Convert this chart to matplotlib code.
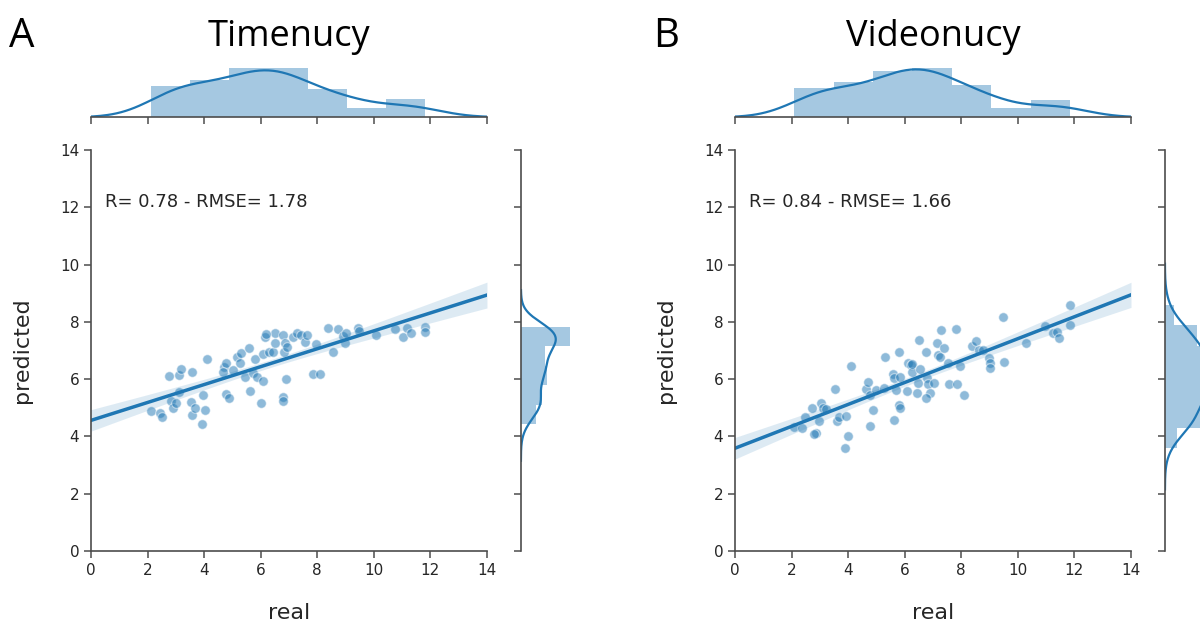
import numpy as np
import matplotlib
matplotlib.use('Agg')
import matplotlib.pyplot as plt

# panel A - Timenucy
real_a = [2.12, 2.44, 2.52, 2.77, 3.11, 3.17, 3.57, 2.84, 2.91, 3.00, 3.10, 3.52,
          3.58, 3.69, 4.03, 3.94, 3.97, 4.11, 4.79, 4.89, 4.72, 4.79, 4.68, 5.03,
          5.15, 5.29, 5.27, 5.60, 5.44, 5.64, 5.80, 5.74, 5.86, 6.00, 6.09, 6.09,
          6.30, 6.45, 6.17, 6.50, 6.80, 6.50, 6.86, 6.83, 6.92, 6.89, 6.80, 6.80,
          7.15, 7.27, 7.41, 7.56, 7.64, 7.95, 7.84, 8.09, 8.39, 8.74, 8.54, 8.92,
          8.98, 9.02, 9.45, 9.48, 10.07, 10.75, 11.04, 11.18, 11.31, 11.81, 11.81, 6.20]
pred_a = [4.89, 4.81, 4.69, 6.12, 6.15, 6.34, 6.25, 5.25, 5.00, 5.18, 5.56, 5.21,
          4.75, 5.00, 4.92, 4.43, 5.45, 6.70, 5.47, 5.33, 6.41, 6.58, 6.26, 6.32,
          6.79, 6.93, 6.58, 7.08, 6.09, 5.60, 6.70, 6.23, 6.06, 5.16, 5.94, 6.88,
          6.96, 6.96, 7.48, 7.62, 7.54, 7.25, 7.25, 6.96, 7.13, 6.00, 5.39, 5.25,
          7.48, 7.60, 7.54, 7.31, 7.54, 7.22, 6.17, 6.17, 7.78, 7.74, 6.96, 7.51,
          7.25, 7.60, 7.80, 7.69, 7.54, 7.75, 7.48, 7.78, 7.62, 7.83, 7.66, 7.58]

# panel B - Videonucy
real_b = [2.10, 2.38, 2.49, 2.73, 2.85, 2.80, 2.97, 3.05, 3.12, 3.21, 3.54, 3.62,
          3.68, 3.94, 3.98, 3.89, 4.10, 4.63, 4.71, 4.78, 4.87, 4.78, 4.99, 5.28,
          5.30, 5.58, 5.62, 5.68, 5.80, 5.82, 5.63, 5.80, 5.82, 6.08, 6.12, 6.23,
          6.25, 6.26, 6.50, 6.53, 6.45, 6.47, 6.77, 6.80, 6.83, 6.89, 6.77, 7.04,
          7.15, 7.18, 7.24, 7.30, 7.39, 7.52, 7.56, 7.81, 7.84, 7.96, 8.10, 8.37,
          8.51, 8.61, 8.75, 8.97, 9.00, 9.03, 9.52, 9.46, 10.28, 10.95, 11.26, 11.40,
          11.46, 11.84, 11.84]
pred_b = [4.34, 4.31, 4.69, 4.98, 4.11, 4.10, 4.55, 5.18, 4.98, 4.95, 5.67, 4.55,
          4.69, 4.72, 4.02, 3.59, 6.45, 5.65, 5.91, 5.45, 4.92, 4.38, 5.62, 5.68,
          6.76, 6.18, 6.03, 5.62, 5.10, 4.98, 4.57, 6.94, 6.09, 5.60, 6.55, 6.49,
          6.26, 6.53, 7.37, 6.34, 5.51, 5.86, 6.94, 6.03, 5.83, 5.51, 5.33, 5.88,
          7.27, 6.84, 6.76, 7.72, 7.08, 6.58, 5.82, 7.75, 5.82, 6.46, 5.45, 7.17,
          7.34, 7.02, 7.02, 6.73, 6.55, 6.38, 6.59, 8.16, 7.27, 7.86, 7.60, 7.66,
          7.45, 8.59, 7.89]

titles = ['Timenucy', 'Videonucy']
panel_labels = ['A', 'B']
stats_text = ['R= 0.78 - RMSE= 1.78', 'R= 0.84 - RMSE= 1.66']
ticks = [0, 2, 4, 6, 8, 10, 12, 14]

blue = '#1f77b4'
spine_col = '0.3'
text_col = '0.15'


def kde(data, grid):
    d = np.asarray(data)
    n = len(d)
    bw = d.std(ddof=1) * n ** (-0.2)
    z = (grid[:, None] - d[None, :]) / bw
    return np.exp(-0.5 * z ** 2).sum(1) / (n * bw * np.sqrt(2 * np.pi))


def kde_grid(data):
    d = np.asarray(data)
    bw = d.std(ddof=1) * len(d) ** (-0.2)
    return np.linspace(d.min() - 3 * bw, d.max() + 3 * bw, 200)


def joint_panel(fig, left, x, y, title, label, txt, ybins):
    x = np.asarray(x)
    y = np.asarray(y)
    ax = fig.add_axes([left, 0.1184, 0.33, 0.6416])
    ax_top = fig.add_axes([left, 0.8125, 0.33, 0.083])
    ax_r = fig.add_axes([left + 0.3583, 0.1184, 0.043, 0.6416])

    # scatter + regression
    ax.scatter(x, y, s=48, color=blue, alpha=0.5, edgecolors='white', linewidths=0.8)
    slope, icpt = np.polyfit(x, y, 1)
    xs = np.linspace(0, 14, 100)
    ys = icpt + slope * xs
    resid = y - (icpt + slope * x)
    n = len(x)
    s = np.sqrt((resid ** 2).sum() / (n - 2))
    se = s * np.sqrt(1.0 / n + (xs - x.mean()) ** 2 / ((x - x.mean()) ** 2).sum())
    ax.fill_between(xs, ys - 1.8 * se, ys + 1.8 * se, color=blue, alpha=0.15, lw=0)
    ax.plot(xs, ys, color=blue, lw=2.5)
    ax.text(0.5, 12, txt, fontsize=13, color=text_col, ha='left', va='baseline')

    ax.set_xlim(0, 14)
    ax.set_ylim(0, 14)
    ax.set_xticks(ticks)
    ax.set_yticks(ticks)
    ax.set_xlabel('real', fontsize=16, color=text_col, labelpad=18)
    ax.set_ylabel('predicted', fontsize=16, color=text_col, labelpad=20)
    for sp in ['top', 'right']:
        ax.spines[sp].set_visible(False)

    # top marginal
    ax_top.hist(x, bins=7, density=True, color=blue, alpha=0.4, lw=0)
    gx = kde_grid(x)
    ax_top.plot(gx, kde(x, gx), color=blue, lw=1.6)
    ax_top.set_xlim(0, 14)
    ax_top.set_xticks(ticks)
    ax_top.set_xticklabels([])
    ax_top.set_yticks([])
    for sp in ['top', 'right', 'left']:
        ax_top.spines[sp].set_visible(False)

    # right marginal
    ax_r.hist(y, bins=ybins, density=True, color=blue, alpha=0.4, lw=0,
              orientation='horizontal')
    gy = kde_grid(y)
    ax_r.plot(kde(y, gy), gy, color=blue, lw=1.6)
    ax_r.set_ylim(0, 14)
    ax_r.set_yticks(ticks)
    ax_r.set_yticklabels([])
    ax_r.set_xticks([])
    for sp in ['top', 'right', 'bottom']:
        ax_r.spines[sp].set_visible(False)

    for a in [ax, ax_top, ax_r]:
        for sp in a.spines.values():
            sp.set_color(spine_col)
            sp.set_linewidth(1.2)
        a.tick_params(colors=spine_col, labelcolor=text_col, labelsize=11,
                      length=5, width=1.1)

    fig.text(left + 0.165, 0.926, title, fontsize=26, family='Open Sans',
             ha='center', va='baseline', color='black')
    fig.text(left - 0.068, 0.925, label, fontsize=29, family='Open Sans',
             ha='left', va='baseline', color='black')


fig = plt.figure(figsize=(12, 6.25), dpi=100)
joint_panel(fig, 0.0758, real_a, pred_a, titles[0], panel_labels[0], stats_text[0], 5)
joint_panel(fig, 0.6125, real_b, pred_b, titles[1], panel_labels[1], stats_text[1], 7)
fig.savefig('out.png', dpi=100)
